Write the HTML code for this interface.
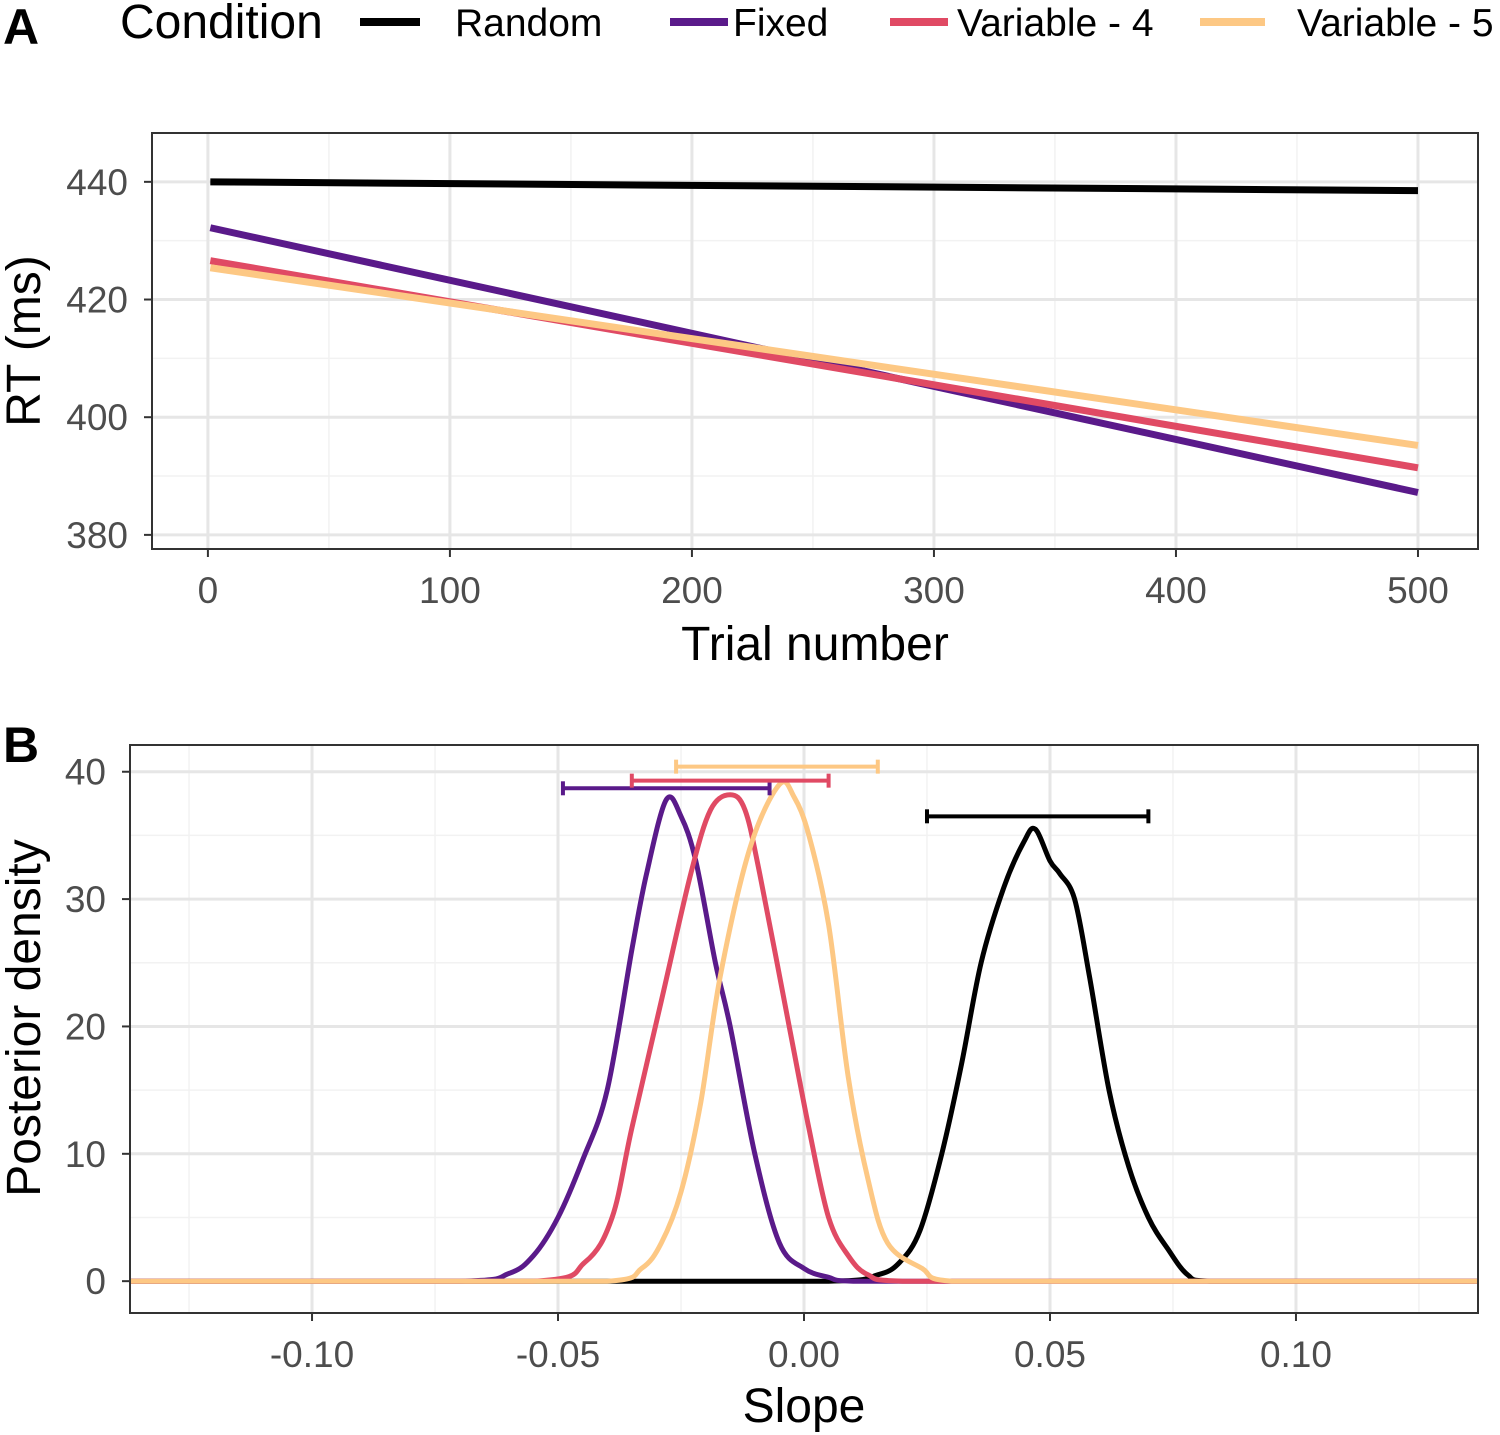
<!DOCTYPE html>
<html><head><meta charset="utf-8"><style>
body{margin:0;background:#fff}
svg{display:block;font-family:"Liberation Sans",sans-serif}
</style></head><body>
<svg id="c" width="1500" height="1435" viewBox="0 0 1500 1435">
<g>
<text x="120" y="38" font-size="48" fill="#000">Condition</text>
<line x1="360" y1="22" x2="420" y2="22" stroke="#000" stroke-width="8"/>
<text x="455" y="36" font-size="39">Random</text>
<line x1="670" y1="22" x2="728" y2="22" stroke="#5a1a8a" stroke-width="8"/>
<text x="733" y="36" font-size="39">Fixed</text>
<line x1="890" y1="22" x2="948" y2="22" stroke="#e04a64" stroke-width="8"/>
<text x="957" y="36" font-size="39">Variable - 4</text>
<line x1="1200" y1="22" x2="1265" y2="22" stroke="#fdc884" stroke-width="8"/>
<text x="1297" y="36" font-size="39">Variable - 5</text>
</g>
<text x="3" y="44" font-size="50" font-weight="bold">A</text>
<text x="3" y="762" font-size="50" font-weight="bold">B</text>
<g id="pa"></g>
<g id="pb"></g>
</svg>
<script>
const NS="http://www.w3.org/2000/svg";
function mk(p,t,a){const e=document.createElementNS(NS,t);for(const k in a)e.setAttribute(k,a[k]);p.appendChild(e);return e;}

// Panel A data
const aCats=["Random","Fixed","Variable - 4","Variable - 5"];
const aStart=[440,432.2,426.6,425.4];
const aEnd=[438.5,387.2,391.4,395.2];
const aColors=["#000","#5a1a8a","#e04a64","#fdc884"];
const aXTicks=[0,100,200,300,400,500];
const aYTicks=[380,400,420,440];

// Panel B data
const bX_fixed=[-0.137,-0.07,-0.06,-0.055,-0.05,-0.045,-0.04,-0.035,-0.032,-0.028,-0.025,-0.022,-0.018,-0.015,-0.01,-0.005,0,0.005,0.01,0.137];
const bY_fixed=[0,0,0.6,2,5,9.5,15,26,32,37.8,36.5,33,25,20,10,3,1,0.3,0,0];
const bX_var4=[-0.137,-0.055,-0.0445,-0.039,-0.035,-0.029,-0.023,-0.019,-0.015,-0.012,-0.009,-0.003,0.001,0.005,0.009,0.013,0.02,0.137];
const bY_var4=[0,0,1.5,5,12,22,32,37,38.2,37,32,20,12,5,2,0.5,0,0];
const bX_var5=[-0.137,-0.04,-0.033,-0.029,-0.025,-0.021,-0.017,-0.011,-0.005,-0.002,0.001,0.005,0.009,0.013,0.017,0.024,0.03,0.137];
const bY_var5=[0,0,1,3,7,14,24,34,39,38,35,28,16,8,3,1,0,0];
const bX_rand=[-0.137,0.005,0.015,0.0195,0.0236,0.028,0.032,0.036,0.0407,0.0447,0.047,0.05,0.052,0.055,0.058,0.062,0.066,0.07,0.074,0.078,0.0825,0.137];
const bY_rand=[0,0,0.5,1.5,4,10,17,25,31,34.5,35.5,33,32,30,24,15,9,5,2.5,0.5,0,0];
const bIntLo=[-0.049,-0.035,-0.026,0.025];
const bIntHi=[-0.007,0.005,0.015,0.070];
const bIntY=[38.7,39.3,40.4,36.5];
const bXTicks=[-0.10,-0.05,0.00,0.05,0.10];
const bXTickLabels=["-0.10","-0.05","0.00","0.05","0.10"];
const bYTicks=[0,10,20,30,40];

function panel(g,L,T,R,B,xd,yd,xmaj,xmin,ymaj,ymin){
  const sx=v=>L+(v-xd[0])/(xd[1]-xd[0])*(R-L);
  const sy=v=>B-(v-yd[0])/(yd[1]-yd[0])*(B-T);
  mk(g,"rect",{x:L,y:T,width:R-L,height:B-T,fill:"#fff"});
  xmin.forEach(v=>{const e=mk(g,"line",{x1:sx(v),x2:sx(v),y1:T,y2:B,stroke:"#f2f2f2","stroke-width":1.5});});
  ymin.forEach(v=>{const e=mk(g,"line",{x1:L,x2:R,y1:sy(v),y2:sy(v),stroke:"#f2f2f2","stroke-width":1.5});});
  xmaj.forEach(v=>{const e=mk(g,"line",{x1:sx(v),x2:sx(v),y1:T,y2:B,stroke:"#e6e6e6","stroke-width":3});});
  ymaj.forEach(v=>{const e=mk(g,"line",{x1:L,x2:R,y1:sy(v),y2:sy(v),stroke:"#e6e6e6","stroke-width":3});});
  return {sx,sy};
}
function frame(g,L,T,R,B,sx,sy,xt,xl,yt,yl){
  const f=mk(g,"rect",{x:L,y:T,width:R-L,height:B-T,fill:"none",stroke:"#333","stroke-width":2});
  
  xt.forEach((v,i)=>{mk(g,"line",{x1:sx(v),x2:sx(v),y1:B,y2:B+8,stroke:"#333","stroke-width":2});
    const t=mk(g,"text",{x:sx(v),y:B+54,"font-size":37,fill:"#4d4d4d","text-anchor":"middle"});t.textContent=xl[i];
    });
  yt.forEach((v,i)=>{mk(g,"line",{x1:L-8,x2:L,y1:sy(v),y2:sy(v),stroke:"#333","stroke-width":2});
    const t=mk(g,"text",{x:L-24,y:sy(v)+13,"font-size":37,fill:"#4d4d4d","text-anchor":"end"});t.textContent=yl[i];
    });
}
function smooth(pts){
  let d="M"+pts[0][0].toFixed(1)+","+pts[0][1].toFixed(1);
  for(let i=0;i<pts.length-1;i++){
    const p0=pts[Math.max(0,i-1)],p1=pts[i],p2=pts[i+1],p3=pts[Math.min(pts.length-1,i+2)];
    let c1x=p1[0]+(p2[0]-p0[0])/6,c1y=p1[1]+(p2[1]-p0[1])/6;
    let c2x=p2[0]-(p3[0]-p1[0])/6,c2y=p2[1]-(p3[1]-p1[1])/6;
    c1x=Math.min(Math.max(c1x,p1[0]),p2[0]);c2x=Math.min(Math.max(c2x,p1[0]),p2[0]);
    const lo=Math.min(p1[1],p2[1]),hi=Math.max(p1[1],p2[1]);
    if(i===0||i===pts.length-2){c1y=Math.min(c1y,Math.max(p1[1],p2[1]));c2y=Math.min(c2y,Math.max(p1[1],p2[1]));}
    d+="C"+c1x.toFixed(1)+","+c1y.toFixed(1)+" "+c2x.toFixed(1)+","+c2y.toFixed(1)+" "+p2[0].toFixed(1)+","+p2[1].toFixed(1);
  }
  return d;
}

// Panel A
(function(){
  const g=document.getElementById("pa");const L=152,T=133,R=1478,B=549;
  const {sx,sy}=panel(g,L,T,R,B,[-23.1,524.8],[377.6,448.3],aXTicks,[50,150,250,350,450],aYTicks,[390,410,430]);
  aCats.forEach((c,i)=>{const e=mk(g,"line",{x1:sx(1),y1:sy(aStart[i]),x2:sx(500),y2:sy(aEnd[i]),stroke:aColors[i],"stroke-width":7});
    });
  frame(g,L,T,R,B,sx,sy,aXTicks,aXTicks.map(String),aYTicks,aYTicks.map(String));
  const xt=mk(g,"text",{x:815,y:660,"font-size":48,"text-anchor":"middle"});xt.textContent="Trial number";
  
  const yt=mk(g,"text",{x:0,y:0,"font-size":48,"text-anchor":"middle",transform:"translate(40,341) rotate(-90)"});yt.textContent="RT (ms)";
  
})();

// Panel B
(function(){
  const g=document.getElementById("pb");const L=130,T=745,R=1478,B=1313;
  const {sx,sy}=panel(g,L,T,R,B,[-0.137,0.137],[-2.5,42.1],bXTicks,[-0.125,-0.075,-0.025,0.025,0.075,0.125],bYTicks,[5,15,25,35]);
  const series=[[bX_rand,bY_rand,"#000","density-random"],[bX_fixed,bY_fixed,"#5a1a8a","density-fixed"],[bX_var4,bY_var4,"#e04a64","density-variable-4"],[bX_var5,bY_var5,"#fdc884","density-variable-5"]];
  series.forEach(s=>{const pts=s[0].map((x,i)=>[sx(x),sy(s[1][i])]);
    const e=mk(g,"path",{d:smooth(pts),fill:"none",stroke:s[2],"stroke-width":5,"stroke-linejoin":"round"});
    });
  const ic=["#5a1a8a","#e04a64","#fdc884","#000"];const iname=["fixed","variable-4","variable-5","random"];
  bIntLo.forEach((lo,i)=>{const gg=mk(g,"g",{stroke:ic[i],"stroke-width":4});
    
    const y=sy(bIntY[i]);mk(gg,"line",{x1:sx(lo),x2:sx(bIntHi[i]),y1:y,y2:y});
    mk(gg,"line",{x1:sx(lo),x2:sx(lo),y1:y-7,y2:y+7});mk(gg,"line",{x1:sx(bIntHi[i]),x2:sx(bIntHi[i]),y1:y-7,y2:y+7});});
  frame(g,L,T,R,B,sx,sy,bXTicks,bXTickLabels,bYTicks,bYTicks.map(String));
  const xt=mk(g,"text",{x:804,y:1422,"font-size":48,"text-anchor":"middle"});xt.textContent="Slope";
  
  const yt=mk(g,"text",{x:0,y:0,"font-size":48,"text-anchor":"middle",transform:"translate(40,1018) rotate(-90)"});yt.textContent="Posterior density";
  
})();
</script>
</body></html>
